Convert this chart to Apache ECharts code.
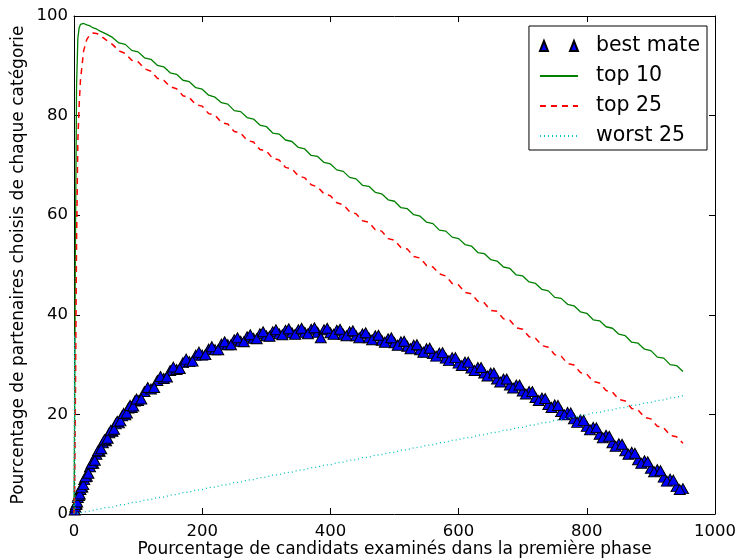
<!DOCTYPE html>
<html>
<head>
<meta charset="utf-8">
<script src="https://cdn.jsdelivr.net/npm/echarts@6/dist/echarts.min.js"></script>
<style>
  html, body { margin: 0; padding: 0; background: #fff; }
  #chart { width: 739px; height: 560px; }
</style>
</head>
<body>
<div id="chart"></div>
<script>
// abscisse des courbes (pourcentage de candidats examinés)
var xLine = [0, 1, 2, 4, 6, 8, 10, 15, 20, 25, 30, 35, 40,
  50, 60, 70, 80, 90, 100, 110, 120, 130, 140, 150, 160, 170, 180, 190, 200,
  210, 220, 230, 240, 250, 260, 270, 280, 290, 300, 310, 320, 330, 340, 350,
  360, 370, 380, 390, 400, 410, 420, 430, 440, 450, 460, 470, 480, 490, 500,
  510, 520, 530, 540, 550, 560, 570, 580, 590, 600, 610, 620, 630, 640, 650,
  660, 670, 680, 690, 700, 710, 720, 730, 740, 750, 760, 770, 780, 790, 800,
  810, 820, 830, 840, 850, 860, 870, 880, 890, 900, 910, 920, 930, 940, 950];

var top10 = [0, 20, 50, 86, 95.5, 97.6, 98.3, 98.5, 98.2, 98.0, 97.6, 97.4, 97.0,
  96.4, 95.7, 94.6, 94.3, 93.1, 92.8, 91.6, 91.3, 90.1, 89.8, 88.6, 88.3, 87.1, 86.8, 85.6, 85.3,
  84.1, 83.7, 82.6, 82.3, 81.0, 80.8, 79.6, 79.3, 78.1, 77.8, 76.5, 76.3, 75.1, 74.8, 73.6,
  73.3, 72.0, 71.8, 70.6, 70.3, 69.1, 68.8, 67.6, 67.3, 66.0, 65.8, 64.6, 64.3, 63.1, 62.8,
  61.5, 61.3, 60.1, 59.8, 58.6, 58.3, 57.0, 56.8, 55.6, 55.3, 54.1, 53.8, 52.5, 52.3, 51.1,
  50.8, 49.6, 49.3, 48.0, 47.8, 46.6, 46.3, 45.1, 44.8, 43.5, 43.3, 42.1, 41.8, 40.6, 40.3,
  39.0, 38.8, 37.6, 37.3, 36.1, 35.8, 34.5, 34.3, 33.1, 32.8, 31.5, 31.3, 30.0, 29.8, 28.6];

var top25 = [0, 5, 20, 55, 75, 82, 87, 93, 95.3, 96.3, 96.6, 96.5, 96.2,
  95.2, 94.3, 93.0, 92.5, 91.1, 90.8, 89.4, 88.9, 87.5, 87.1, 85.8, 85.4, 84.0, 83.6, 82.2, 81.9,
  80.4, 80.1, 78.6, 78.3, 76.8, 76.5, 75.0, 74.7, 73.2, 72.9, 71.4, 71.1, 69.6, 69.3, 67.9,
  67.5, 66.1, 65.7, 64.3, 63.9, 62.5, 62.1, 60.7, 60.3, 58.9, 58.6, 57.1, 56.8, 55.3, 55.0,
  53.5, 53.2, 51.7, 51.4, 49.9, 49.6, 48.2, 47.8, 46.3, 46.0, 44.5, 44.2, 42.7, 42.4, 40.9,
  40.7, 39.2, 38.9, 37.4, 37.1, 35.6, 35.3, 33.8, 33.5, 32.0, 31.7, 30.2, 29.9, 28.4, 28.1,
  26.6, 26.3, 24.8, 24.5, 23.0, 22.7, 21.2, 20.9, 19.4, 19.1, 17.6, 17.3, 15.8, 15.5, 14.2];

var worst25 = [0, 36, 0.05, 0.1, 0.15, 0.2, 0.25, 0.4, 0.5, 0.6, 0.75, 0.9, 1.0,
  1.3, 1.4, 1.8, 1.9, 2.3, 2.4, 2.8, 2.9, 3.3, 3.4, 3.8, 3.9, 4.3, 4.4, 4.8, 4.9,
  5.3, 5.4, 5.8, 5.9, 6.3, 6.4, 6.8, 6.9, 7.3, 7.4, 7.8, 7.9, 8.3, 8.4, 8.8,
  8.9, 9.3, 9.4, 9.8, 9.9, 10.3, 10.4, 10.8, 10.9, 11.3, 11.4, 11.8, 11.9, 12.3, 12.4,
  12.8, 12.9, 13.3, 13.4, 13.8, 13.9, 14.3, 14.4, 14.8, 14.9, 15.3, 15.4, 15.8, 15.9, 16.3,
  16.4, 16.8, 16.9, 17.3, 17.4, 17.8, 17.9, 18.3, 18.4, 18.8, 18.9, 19.3, 19.4, 19.8, 19.9,
  20.3, 20.4, 20.8, 20.9, 21.3, 21.4, 21.8, 21.9, 22.3, 22.4, 22.8, 22.9, 23.3, 23.4, 23.8];

// meilleur partenaire : premier passage
var xBest = [1, 2, 4, 6, 8, 10, 13, 16, 20, 25, 30, 35, 40, 45, 50, 55, 60, 65, 70, 75,
  80, 85, 90, 95, 100, 110, 120, 130, 140, 150, 160, 170, 180, 190, 200,
  210, 220, 230, 240, 250, 260, 270, 280, 290, 300, 310, 320, 330, 340, 350,
  360, 370, 380, 390, 400, 410, 420, 430, 440, 450, 460, 470, 480, 490, 500,
  510, 520, 530, 540, 550, 560, 570, 580, 590, 600, 610, 620, 630, 640, 650,
  660, 670, 680, 690, 700, 710, 720, 730, 740, 750, 760, 770, 780, 790, 800,
  810, 820, 830, 840, 850, 860, 870, 880, 890, 900, 910, 920, 930, 940, 950];

var bestMate = [0.8, 1.4, 2.0, 3.3, 3.7, 4.9, 5.4, 6.9, 7.6, 9.5, 10.2, 12.0, 12.6, 14.3, 14.7, 16.3, 16.6, 18.1, 18.3, 19.7,
  19.9, 21.3, 21.4, 22.7, 22.8, 24.6, 25.1, 26.8, 27.2, 28.8, 29.0, 30.4, 30.6, 31.9, 31.9,
  33.1, 33.0, 34.1, 34.0, 35.0, 34.7, 35.6, 35.3, 36.2, 35.8, 36.6, 36.2, 36.9, 36.4, 37.0,
  36.5, 37.1, 36.5, 37.0, 36.4, 36.9, 36.1, 36.6, 35.8, 36.2, 35.4, 35.8, 34.9, 35.2, 34.4,
  34.6, 33.7, 33.9, 33.0, 33.2, 32.2, 32.3, 31.3, 31.4, 30.3, 30.5, 29.3, 29.4, 28.3, 28.3,
  27.1, 27.1, 25.9, 25.9, 24.7, 24.6, 23.4, 23.3, 22.0, 21.9, 20.6, 20.4, 19.1, 18.9, 17.6,
  17.4, 16.0, 15.8, 14.3, 14.1, 12.7, 12.4, 10.9, 10.7, 9.2, 8.9, 7.4, 7.0, 5.5, 5.1];

// meilleur partenaire : points intermédiaires
var xBestMid = [3, 5, 7, 9, 11.5, 14.5, 18, 22.5, 27.5, 32.5, 37.5, 42.5, 47.5, 52.5, 57.5,
  62.5, 67.5, 72.5, 77.5, 82.5, 87.5, 92.5, 97.5,
  105, 115, 125, 135, 145, 155, 165, 175, 185, 195, 205, 215, 225, 235, 245,
  255, 265, 275, 285, 295, 305, 315, 325, 335, 345, 355, 365, 375, 385, 395,
  405, 415, 425, 435, 445, 455, 465, 475, 485, 495, 505, 515, 525, 535, 545,
  555, 565, 575, 585, 595, 605, 615, 625, 635, 645, 655, 665, 675, 685, 695,
  705, 715, 725, 735, 745, 755, 765, 775, 785, 795, 805, 815, 825, 835, 845,
  855, 865, 875, 885, 895, 905, 915, 925, 935, 945];

var bestMateMid = [1.9, 2.4, 3.7, 4.0, 5.4, 5.9, 7.5, 8.2, 10.2, 10.8, 12.7, 13.1, 14.9, 15.2, 16.8,
  17.0, 18.6, 18.7, 20.2, 20.3, 21.8, 21.7, 23.1,
  23.1, 25.4, 25.4, 27.6, 27.5, 29.5, 29.2, 31.1, 30.7, 32.5, 32.0, 33.6, 33.0, 34.6, 34.0,
  35.4, 34.6, 36.0, 35.2, 36.6, 35.7, 37.0, 36.0, 37.2, 36.1, 37.3, 36.2, 37.4, 35.4, 37.3,
  36.1, 37.1, 35.8, 36.8, 35.4, 36.4, 35.0, 35.9, 34.5, 35.4, 33.9, 34.7, 33.2, 34.0, 32.5,
  33.3, 31.7, 32.4, 30.8, 31.4, 29.8, 30.5, 28.8, 29.4, 27.7, 28.3, 26.5, 27.1, 25.3, 25.9,
  24.1, 24.6, 22.8, 23.2, 21.4, 21.8, 19.9, 20.3, 18.4, 18.8, 16.9, 17.3, 15.3, 15.6, 13.6,
  14.0, 12.0, 12.2, 10.2, 10.5, 8.5, 8.7, 6.6, 6.8, 4.9];

var xTicks = [0, 200, 400, 600, 800, 1000];
var yTicks = [0, 20, 40, 60, 80, 100];

function pairs(xs, ys) {
  return xs.map(function (x, i) { return [x, ys[i]]; });
}

var chart = echarts.init(document.getElementById('chart'));

var axisCommon = {
  type: 'value',
  axisLine: { show: true, onZero: false, lineStyle: { color: '#000', width: 1 } },
  axisTick: { show: true, inside: true, length: 6, lineStyle: { color: '#000' } },
  splitLine: { show: false }
};
var tickFont = 16.5;
var titleFont = 17;

chart.setOption({
  animation: false,
  textStyle: { fontFamily: 'DejaVu Sans' },
  grid: { left: 74, right: 24, top: 16, bottom: 46, containLabel: false, outerBoundsMode: 'none' },
  xAxis: [
    Object.assign({}, axisCommon, {
      min: xTicks[0], max: xTicks[xTicks.length - 1], interval: xTicks[1] - xTicks[0],
      position: 'bottom',
      axisLabel: { color: '#000', fontSize: tickFont, margin: 9, formatter: function (v) { return String(v); } },
      name: 'Pourcentage de candidats examinés dans la première phase',
      nameLocation: 'middle', nameGap: 27, nameMoveOverlap: false,
      nameTextStyle: { color: '#000', fontSize: titleFont }
    }),
    Object.assign({}, axisCommon, {
      min: xTicks[0], max: xTicks[xTicks.length - 1], interval: xTicks[1] - xTicks[0],
      position: 'top',
      axisLabel: { show: false }
    })
  ],
  yAxis: [
    Object.assign({}, axisCommon, {
      min: yTicks[0], max: yTicks[yTicks.length - 1], interval: yTicks[1] - yTicks[0],
      position: 'left',
      axisLabel: { color: '#000', fontSize: tickFont, margin: 6 },
      name: 'Pourcentage de partenaires choisis de chaque catégorie',
      nameLocation: 'middle', nameGap: 47, nameMoveOverlap: false,
      nameTextStyle: { color: '#000', fontSize: titleFont }
    }),
    Object.assign({}, axisCommon, {
      min: yTicks[0], max: yTicks[yTicks.length - 1], interval: yTicks[1] - yTicks[0],
      position: 'right',
      axisLabel: { show: false }
    })
  ],
  legend: {
    orient: 'vertical',
    right: 32, top: 26,
    padding: [9, 7, 3, 10],
    borderColor: '#000', borderWidth: 1,
    backgroundColor: '#fff',
    itemWidth: 38, itemHeight: 10, itemGap: 8,
    textStyle: { fontSize: 20.5, color: '#000', lineHeight: 22, padding: [0, 0, 0, 13] },
    data: [
      { name: 'best mate', icon: 'path://M0,10L4,0L8,10Z M30,10L34,0L38,10Z' },
      { name: 'top 10', itemStyle: { opacity: 0 } },
      { name: 'top 25', itemStyle: { opacity: 0 } },
      { name: 'worst 25', itemStyle: { opacity: 0 } }
    ]
  },
  series: [
    {
      name: 'best mate', type: 'scatter',
      data: pairs(xBest, bestMate).concat(pairs(xBestMid, bestMateMid)),
      symbol: 'triangle', symbolSize: [11, 10],
      itemStyle: { color: '#0000ff', opacity: 1, borderColor: '#000', borderWidth: 1 }
    },
    {
      name: 'top 10', type: 'line', showSymbol: false, symbol: 'none',
      data: pairs(xLine, top10),
      lineStyle: { color: '#008000', width: 1.3 },
      itemStyle: { color: '#008000' }
    },
    {
      name: 'top 25', type: 'line', showSymbol: false, symbol: 'none',
      data: pairs(xLine, top25),
      lineStyle: { color: '#ff0000', width: 1.5, type: [6, 5] },
      itemStyle: { color: '#ff0000' }
    },
    {
      name: 'worst 25', type: 'line', showSymbol: false, symbol: 'none',
      data: pairs(xLine, worst25),
      lineStyle: { color: '#00bfbf', width: 1.3, type: [1, 3] },
      itemStyle: { color: '#00bfbf' }
    }
  ]
});
</script>
</body>
</html>
